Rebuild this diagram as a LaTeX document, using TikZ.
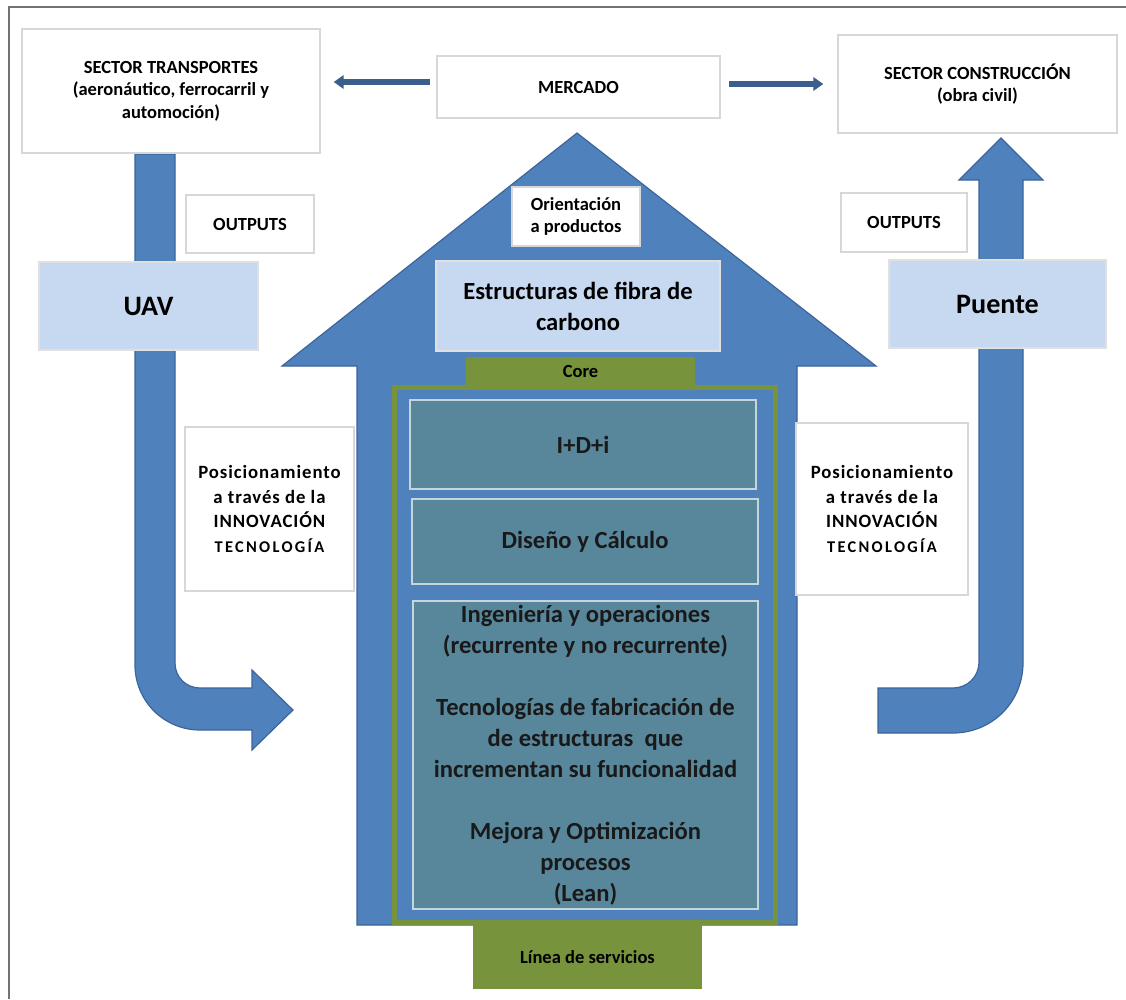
\documentclass[tikz,border=0pt]{standalone}
\usepackage{fontspec}
\setmainfont{Carlito}
\usepackage{tikz}
\usetikzlibrary{arrows.meta, positioning}
\definecolor{houseblue}{RGB}{79,129,189}
\definecolor{edgeblue}{RGB}{60,100,155}
\definecolor{paleblue}{RGB}{198,217,241}
\definecolor{tealbox}{RGB}{88,135,155}
\definecolor{leafgreen}{RGB}{119,147,60}
\definecolor{flowblue}{RGB}{59,95,140}
\definecolor{boxgray}{RGB}{215,215,215}
\newcommand{\px}{0.03cm}
\newcommand{\smallbf}{\bfseries\fontsize{15.8}{19.2}\selectfont}
\newcommand{\bigbf}{\bfseries\fontsize{21}{26.5}\selectfont}
\newcommand{\tecno}{{\fontsize{14}{21}\selectfont\addfontfeatures{LetterSpace=14}TECNOLOGÍA}}
\tikzset{
  wbox/.style   ={draw=boxgray, line width=1.2pt, fill=white, inner sep=0pt, align=center, font=\smallbf},
  pbox/.style   ={draw=black!12, line width=1pt, fill=paleblue, inner sep=0pt, align=center, font=\bigbf},
  tbox/.style   ={draw=white!65!tealbox, line width=1.2pt, fill=tealbox, inner sep=0pt, align=center, font=\bigbf, text=black!90},
  gbox/.style   ={draw=none, fill=leafgreen, inner sep=0pt, align=center, font=\smallbf},
  posbox/.style ={draw=boxgray, line width=1.2pt, fill=white, inner sep=0pt, align=center,
                  font=\bfseries\fontsize{16}{21}\selectfont\addfontfeatures{LetterSpace=5}},
  sz/.style 2 args={minimum width=#1*\px, minimum height=#2*\px},
  bigarrow/.style={fill=houseblue, draw=edgeblue, line width=1pt},                 % curved arrows, house
  flow/.style   ={-{Triangle[length=0.3cm, width=0.4cm]}, flowblue, line width=0.18cm}, % market -> sectors
  frameline/.style={draw=black!55, line width=0.075cm},
}

\begin{document}
\begin{tikzpicture}[x=0.03cm, y=-0.03cm]
  \useasboundingbox (0,0) rectangle (1126,999);
  \draw[frameline] (9,999) -- (9,7) -- (1126,7);

  % --- curved arrows ---
  \filldraw[bigarrow] (135,154) -- (135,665) .. controls (135,701) and (164,730) .. (200,730)
    -- (252,730) -- (252,750) -- (293,710) -- (252,670) -- (252,688) -- (200,688)
    .. controls (186,688) and (175,677) .. (175,663) -- (175,154) -- cycle;
  \filldraw[bigarrow] (878,688) -- (953,688) .. controls (967,688) and (979,677) .. (979,662)
    -- (979,180) -- (959,180) -- (1001,138) -- (1043,180) -- (1023,180) -- (1023,663)
    .. controls (1023,702) and (992,733) .. (953,733) -- (878,733) -- cycle;

  % --- house ---
  \filldraw[bigarrow] (577,133) -- (876,366) -- (797,366) -- (797,925) -- (357,925)
    -- (357,366) -- (282,366) -- cycle;
  \draw[draw=leafgreen, line width=0.15cm, fill=houseblue] (394.5,387.5) rectangle (775.5,922.5);

  \node[wbox, sz={128}{59}]  (orient) at (576,216.5) {Orientación\\a productos};
  \node[pbox, sz={284}{90}]  (estr)   at (578,306)   {Estructuras de fibra de\\carbono};
  \node[gbox, sz={229}{28}]  (core)   at (580.5,371) {Core};
  \node[tbox, sz={346}{89}]  (idi)    at (583,444.5) {I+D+i};
  \node[tbox, sz={346}{85}]  (diseno) at (585,541.5) {Diseño y Cálculo};
  \node[tbox, sz={345}{308}] (ingen)  at (585.5,755)
    {Ingeniería y operaciones\\(recurrente y no recurrente)\\[26.5pt]
     Tecnologías de fabricación de\\de estructuras~ que\\incrementan su funcionalidad\\[26.5pt]
     Mejora y Optimización\\procesos\\(Lean)};
  \node[gbox, sz={229}{64}]  (linea)  at (587.5,957) {Línea de servicios};

  % --- left side ---
  \node[wbox, sz={298}{124}] (transp) at (171,91) {SECTOR TRANSPORTES\\(aeronáutico, ferrocarril y\\automoción)};
  \node[wbox, sz={128}{58}]  (outL)   at (250,224) {OUTPUTS};
  \node[pbox, sz={219}{88}, font=\bfseries\fontsize{24}{28}\selectfont] (uav) at (148.5,306) {UAV};
  \node[posbox, sz={169}{164}] (posL) at (269.5,509)
    {Posicionamiento\\a través de la\\INNOVACIÓN\\\tecno};

  % --- right side ---
  \node[wbox, sz={283}{62}]  (mercado) at (578.5,87) {MERCADO};
  \node[wbox, sz={279}{98}]  (constr)  at (977.5,84) {SECTOR CONSTRUCCIÓN\\(obra civil)};
  \node[wbox, sz={126}{59}]  (outR)    at (904,222.5) {OUTPUTS};
  \node[pbox, sz={217}{88}, font=\bfseries\fontsize{24}{28}\selectfont] (puente) at (997.5,304) {Puente};
  \node[posbox, sz={172}{172}] (posR) at (882,509)
    {Posicionamiento\\a través de la\\INNOVACIÓN\\\tecno};

  % --- market arrows ---
  \draw[flow, shorten <=0.18cm, shorten >=0.39cm] (mercado.west |- 0,82) -- (transp.east |- 0,82);
  \draw[flow, shorten <=0.24cm, shorten >=0.42cm] (mercado.east |- 0,84) -- (constr.west |- 0,84);
\end{tikzpicture}
\end{document}
